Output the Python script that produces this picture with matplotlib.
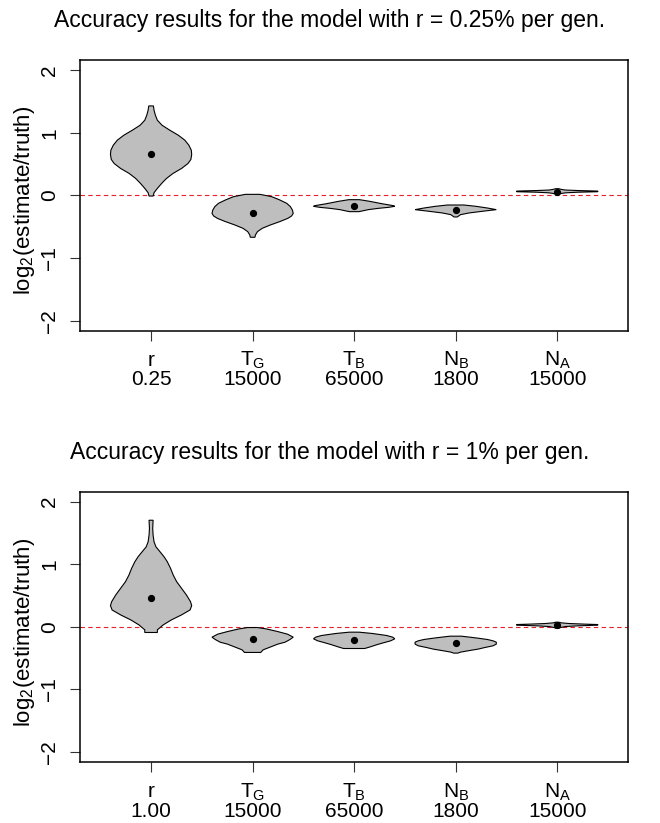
import numpy as np
import matplotlib
matplotlib.use("Agg")
import matplotlib.pyplot as plt

plt.rcParams['font.family'] = ['Liberation Sans', 'DejaVu Sans']
plt.rcParams['mathtext.fontset'] = 'custom'
plt.rcParams['mathtext.rm'] = 'Liberation Sans'
plt.rcParams['mathtext.it'] = 'Liberation Sans:italic'
plt.rcParams['mathtext.bf'] = 'Liberation Sans:bold'

# ---------------- data ----------------
param_names = ["r", r"T$_\mathrm{G}$", r"T$_\mathrm{B}$", r"N$_\mathrm{B}$", r"N$_\mathrm{A}$"]
truth_top = ["0.25", "15000", "65000", "1800", "15000"]
truth_bottom = ["1.00", "15000", "65000", "1800", "15000"]
title_top = "Accuracy results for the model with r = 0.25% per gen."
title_bottom = "Accuracy results for the model with r = 1% per gen."

# violin density profiles: log2 levels (top -> bottom) and relative half-width
top_levels = [
    [1.427, 1.358, 1.279, 1.199, 1.119, 1.040, 0.960, 0.881, 0.801, 0.721, 0.652,
     0.573, 0.509, 0.429, 0.350, 0.270, 0.190, 0.111, 0.042, -0.011],
    [0.016, -0.021, -0.074, -0.127, -0.180, -0.234, -0.287, -0.329, -0.366, -0.419,
     -0.472, -0.525, -0.579, -0.632, -0.669],
    [-0.069, -0.095, -0.133, -0.165, -0.175, -0.191, -0.207, -0.228, -0.260],
    [-0.154, -0.175, -0.202, -0.228, -0.255, -0.281, -0.308, -0.345],
    [0.106, 0.095, 0.085, 0.077, 0.068, 0.058, 0.050, 0.040, 0.030, 0.021],
]
top_widths = [
    [0.057, 0.073, 0.106, 0.155, 0.27, 0.46, 0.67, 0.83, 0.93, 0.99, 1.0,
     0.98, 0.91, 0.75, 0.54, 0.38, 0.26, 0.155, 0.073, 0.05],
    [0.18, 0.47, 0.67, 0.84, 0.93, 0.98, 1.0, 0.96, 0.87, 0.67, 0.44, 0.24, 0.12, 0.07, 0.057],
    [0.13, 0.38, 0.68, 0.97, 1.0, 0.85, 0.6, 0.35, 0.12],
    [0.2, 0.5, 0.78, 1.0, 0.65, 0.33, 0.12, 0.04],
    [0.04, 0.1, 0.2, 0.5, 1.0, 1.0, 0.5, 0.2, 0.1, 0.04],
]
top_medians = [0.652, -0.281, -0.175, -0.234, 0.058]

bottom_levels = [
    [1.704, 1.571, 1.465, 1.359, 1.279, 1.200, 1.120, 1.040, 0.934, 0.828, 0.722,
     0.616, 0.510, 0.403, 0.340, 0.270, 0.191, 0.111, 0.032, -0.048, -0.090],
    [-0.011, -0.032, -0.074, -0.117, -0.165, -0.202, -0.245, -0.276, -0.314, -0.367, -0.409],
    [-0.085, -0.106, -0.138, -0.165, -0.191, -0.223, -0.255, -0.287, -0.319, -0.346],
    [-0.149, -0.165, -0.181, -0.202, -0.223, -0.245, -0.276, -0.303, -0.330, -0.356,
     -0.383, -0.404, -0.420],
    [0.074, 0.064, 0.053, 0.043, 0.037, 0.027, 0.016, 0.005, -0.011, -0.021],
]
bottom_widths = [
    [0.05, 0.04, 0.05, 0.073, 0.12, 0.22, 0.32, 0.40, 0.48, 0.545, 0.63,
     0.75, 0.87, 0.97, 1.0, 0.96, 0.75, 0.5, 0.3, 0.155, 0.155],
    [0.12, 0.33, 0.61, 0.86, 1.0, 0.92, 0.8, 0.62, 0.47, 0.26, 0.2],
    [0.12, 0.45, 0.8, 0.95, 1.0, 0.9, 0.72, 0.55, 0.4, 0.26],
    [0.14, 0.35, 0.55, 0.78, 0.92, 1.0, 1.0, 0.92, 0.72, 0.55, 0.3, 0.12, 0.05],
    [0.04, 0.1, 0.3, 0.7, 1.0, 1.0, 0.5, 0.2, 0.08, 0.04],
]
bottom_medians = [0.456, -0.190, -0.213, -0.266, 0.032]

yticks = [-2, -1, 0, 1, 2]

# ---------------- drawing ----------------
W, H = 660, 823
fig = plt.figure(figsize=(W / 100, H / 100), dpi=100)

HALF = 0.4


def panel(rect, levels, widths, medians, truths, title, title_base_px, ylabel_px):
    ax = fig.add_axes(rect)
    for i, (ys, ws) in enumerate(zip(levels, widths)):
        c = i + 1
        ys = np.asarray(ys)
        ws = np.asarray(ws) * HALF
        xs = np.concatenate([c + ws, (c - ws)[::-1]])
        yy = np.concatenate([ys, ys[::-1]])
        ax.fill(xs, yy, facecolor='#BEBEBE', edgecolor='black', lw=0.8, zorder=2)
    ax.plot(np.arange(1, len(medians) + 1), medians, 'o', color='black', ms=4.2,
            ls='none', zorder=3)
    ax.axhline(0, color='#e8202a', lw=0.8, ls=(0, (4, 3)), zorder=1)
    ax.set_xlim(0.3, 5.7)
    ax.set_ylim(-2.16, 2.16)
    ax.set_yticks(yticks)
    ax.set_yticklabels([str(v).replace('-', '\u2212') for v in yticks])
    ax.set_xticks(range(1, 6))
    ax.set_xticklabels([''] * 5)
    ax.tick_params(axis='both', direction='out', length=7, width=0.8, color='#333333',
                   labelsize=15)
    ax.tick_params(axis='y', pad=8)
    for lab in ax.get_yticklabels():
        lab.set_rotation(90)
        lab.set_va('center')
        lab.set_ha('right')
    for s in ax.spines.values():
        s.set_linewidth(1.1)
    for i in range(5):
        ax.annotate(param_names[i], xy=(i + 1, 0), xycoords=('data', 'axes fraction'),
                    xytext=(0, -25.4), textcoords='offset points', ha='center',
                    va='baseline', fontsize=15)
        ax.annotate(truths[i], xy=(i + 1, 0), xycoords=('data', 'axes fraction'),
                    xytext=(0, -39.3), textcoords='offset points', ha='center',
                    va='baseline', fontsize=15)
    fig.text(0.5, 1 - title_base_px / H, title, ha='center', va='baseline', fontsize=16.5)
    fig.text(25 / W, 1 - ylabel_px / H, r"log$_2$(estimate/truth)", rotation=90,
             ha='center', va='center', fontsize=16)
    return ax


left = 80 / W
width = 548.3 / W
panel([left, 1 - 330.7 / H, width, 270.7 / H], top_levels, top_widths, top_medians,
      truth_top, title_top, 26.7, 200)
panel([left, 1 - 762 / H, width, 270.3 / H], bottom_levels, bottom_widths, bottom_medians,
      truth_bottom, title_bottom, 459.3, 632)

fig.savefig("out.png", dpi=100)
